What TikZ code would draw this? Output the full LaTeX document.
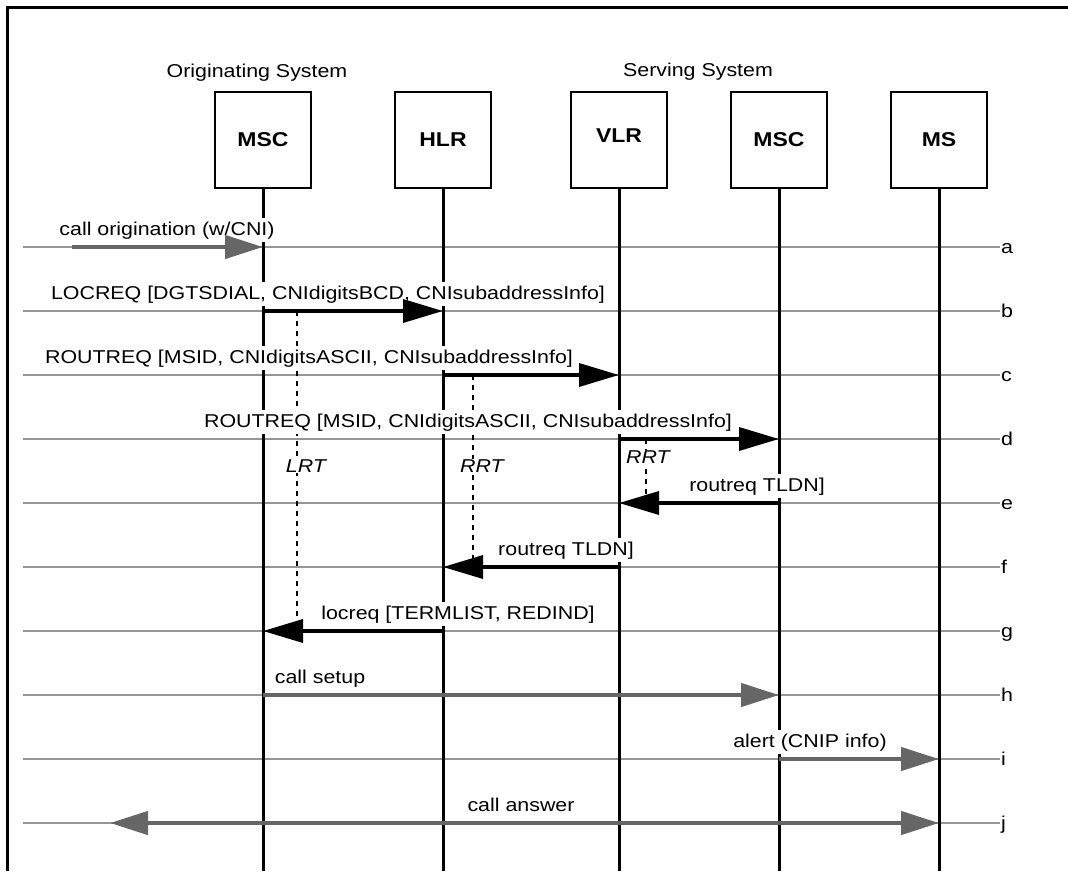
\documentclass[tikz,border=0pt]{standalone}
\usepackage{graphicx}
\usepackage{fontspec}
\setmainfont{Liberation Sans}
\usetikzlibrary{arrows.meta}
\definecolor{rowgray}{RGB}{150,150,150}
\definecolor{msggray}{RGB}{102,102,102}
\newcommand{\wideT}[1]{\scalebox{1.15}[1]{#1}}
\tikzset{
  every node/.style={font=\fontsize{18.6}{22}\selectfont},
  entity/.style={draw, line width=2.5pt, fill=white, minimum width=96pt, minimum height=96pt, inner sep=0pt, font=\fontsize{20}{24}\selectfont\bfseries},
  life/.style={line width=3pt},
  rowline/.style={draw=rowgray, line width=1.2pt},
  blkmsg/.style={line width=3.5pt, -{Triangle[length=40pt,width=23pt]}},
  grymsg/.style={draw=msggray, line width=4.5pt, -{Triangle[length=38pt,width=23pt]}},
  grymsgtwo/.style={draw=msggray, line width=4.5pt, {Triangle[length=38pt,width=23pt]}-{Triangle[length=38pt,width=23pt]}},
  msglabel/.style={fill=white, inner xsep=2pt, inner ysep=3pt, anchor=base, text height=14pt, text depth=4pt},
  timer/.style={line width=1.2pt, dash pattern=on 5pt off 5pt},
  timerlabel/.style={fill=white, inner sep=1pt, font=\fontsize{18.6}{22}\selectfont\itshape},
  rowtag/.style={anchor=base west, inner sep=1pt},
  title/.style={anchor=base, inner sep=0pt}
}
\begin{document}
\begin{tikzpicture}[x=1pt,y=-1pt]
\useasboundingbox (0,0) rectangle (1068,871);
% frame
\coordinate (fbl) at (7,871);
\coordinate (ftl) at (7,7.5);
\coordinate (ftr) at (1068,7.5);
\draw[line width=3pt] (fbl) -- (ftl) -- (ftr);
\coordinate (bot) at (0,871);
% rows
\foreach \n/\y in {a/247,b/311,c/375,d/439,e/503,f/567,g/631,h/695,i/759,j/823}{
  \coordinate (r\n) at (23,\y);
  \coordinate (r\n E) at (1000,\y);
  \draw[rowline] (r\n) -- (r\n E);
  \node[rowtag] at ([yshift=-6pt]r\n E) {\wideT{\n}};
}
% entities
\node[entity] (msc1) at (263,140) {\wideT{MSC}};
\node[entity] (hlr) at (443,140) {\wideT{HLR}};
\node[entity] (vlr) at (619,140) {};
\node[entity,draw=none,fill=none] (vlrtxt) at (619,136) {\wideT{VLR}};
\node[entity] (msc2) at (779,140) {\wideT{MSC}};
\node[entity] (ms) at (939,140) {\wideT{MS}};
% lifelines
\foreach \e in {msc1,hlr,vlr,msc2,ms}{
  \draw[life] (\e.south) -- (\e |- bot);
}
% timers
\coordinate (lrtT) at (297,311); \coordinate (lrtB) at (297,631);
\coordinate (rrtAT) at (473,375); \coordinate (rrtAB) at (473,567);
\coordinate (rrtBT) at (646,439); \coordinate (rrtBB) at (646,503);
\draw[timer] (lrtT) -- (lrtB);
\draw[timer] (rrtAT) -- (rrtAB);
\draw[timer] (rrtBT) -- (rrtBB);
\node[timerlabel] (lrt) at (306,466) {\wideT{LRT}};
\node[timerlabel] (rrta) at (482,466) {\wideT{RRT}};
\node[timerlabel] (rrtb) at (648,457) {\wideT{RRT}};
% titles
\node[title] (orig) at (257,77) {\wideT{Originating System}};
\node[title] (serv) at (698,76) {\wideT{Serving System}};
% message labels
\node[msglabel] (la) at (167,235) {\wideT{call origination (w/CNI)}};
\node[msglabel] (lb) at (328,299) {\wideT{LOCREQ [DGTSDIAL, CNIdigitsBCD, CNIsubaddressInfo]}};
\node[msglabel] (lc) at (309,363) {\wideT{ROUTREQ [MSID, CNIdigitsASCII, CNIsubaddressInfo]}};
\node[msglabel] (ld) at (468,427) {\wideT{ROUTREQ [MSID, CNIdigitsASCII, CNIsubaddressInfo]}};
\node[msglabel] (le) at (757,491) {\wideT{routreq TLDN]}};
\node[msglabel] (lf) at (566,555) {\wideT{routreq TLDN]}};
\node[msglabel] (lg) at (458,619) {\wideT{locreq [TERMLIST, REDIND]}};
\node[msglabel] (lh) at (320,683) {\wideT{call setup}};
\node[msglabel] (li) at (810,747) {\wideT{alert (CNIP info)}};
\node[msglabel] (lj) at (521,811) {\wideT{call answer}};
% messages
\coordinate (astart) at (72,247);
\coordinate (jleft) at (110,823);
\draw[grymsg] (astart) -- (msc1 |- ra);
\draw[blkmsg] (msc1 |- rb) -- (hlr |- rb);
\draw[blkmsg] (hlr |- rc) -- (vlr |- rc);
\draw[blkmsg] (vlr |- rd) -- (msc2 |- rd);
\draw[blkmsg] (msc2 |- re) -- (vlr |- re);
\draw[blkmsg] (vlr |- rf) -- (hlr |- rf);
\draw[blkmsg] (hlr |- rg) -- (msc1 |- rg);
\draw[grymsg] (msc1 |- rh) -- (msc2 |- rh);
\draw[grymsg] (msc2 |- ri) -- (ms |- ri);
\draw[grymsgtwo] (jleft) -- (ms |- rj);
\end{tikzpicture}
\end{document}
